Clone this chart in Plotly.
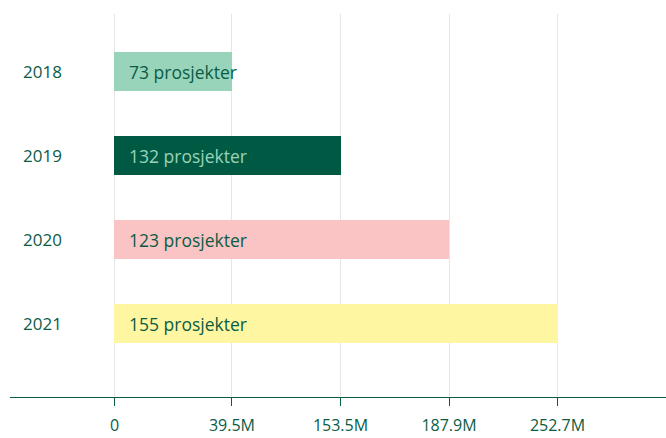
import plotly.graph_objects as go

years = ["2018", "2019", "2020", "2021"]
projects = [73, 132, 123, 155]
amount_labels = ["0", "39.5M", "153.5M", "187.9M", "252.7M"]
# position of each amount tick on the (ordinal) value axis
tick_pos = [0, 1.083, 2.083, 3.083, 4.083]
bar_colors = ["#98d4ba", "#005a43", "#f9c4c3", "#fff6a1"]
text_colors = ["#0b5c45", "#9ad3ba", "#0b5c45", "#0b5c45"]

DARK = "#0b5c45"
FONT = "Open Sans"

bar_ends = tick_pos[1:]

fig = go.Figure()
fig.add_trace(go.Bar(
    y=years, x=bar_ends, orientation="h",
    marker=dict(color=bar_colors, line=dict(width=0)),
    width=0.464, hoverinfo="skip",
))

annotations = []
for i, (yr, n, tc) in enumerate(zip(years, projects, text_colors)):
    annotations.append(dict(
        x=0, y=i, xref="x", yref="y", xanchor="left", yanchor="middle",
        xshift=13, text=f"{n} prosjekter", showarrow=False,
        font=dict(family=FONT, size=17.5, color=tc),
    ))
    annotations.append(dict(
        x=0.05, y=i, xref="paper", yref="y", xanchor="center", yanchor="middle",
        text=yr, showarrow=False,
        font=dict(family=FONT, size=17, color=DARK),
    ))

fig.update_layout(
    width=666, height=438,
    margin=dict(l=10, r=0, t=14, b=41),
    paper_bgcolor="white", plot_bgcolor="white",
    showlegend=False,
    bargap=0,
    annotations=annotations,
    xaxis=dict(
        range=[-0.963, 5.083],
        tickvals=tick_pos, ticktext=amount_labels,
        showgrid=True, gridcolor="#e6e6e6", gridwidth=1,
        zeroline=False,
        showline=True, linecolor=DARK, linewidth=1,
        ticks="outside", ticklen=8, tickcolor=DARK, tickwidth=1,
        ticklabelstandoff=6,
        tickfont=dict(family=FONT, size=16, color=DARK),
        automargin=False,
        fixedrange=True,
    ),
    yaxis=dict(
        type="category", categoryorder="array", categoryarray=years,
        range=[3.87, -0.69],
        showticklabels=False, showgrid=False, zeroline=False, showline=False,
        ticks="", automargin=False, fixedrange=True,
    ),
)

fig.write_html("out.html", config={"displayModeBar": False},
               post_script="document.body.style.margin='0';")
